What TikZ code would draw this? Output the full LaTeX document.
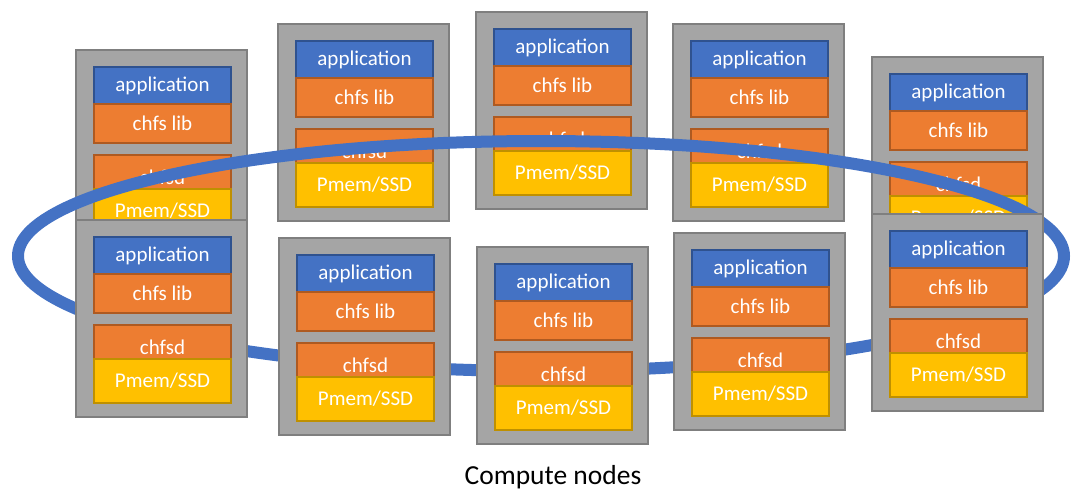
\documentclass[tikz,border=0pt]{standalone}
\usepackage{fontspec}
\setmainfont{Carlito}
\definecolor{appblue}{HTML}{4472C4}
\definecolor{appblueD}{HTML}{2F528F}
\definecolor{liborange}{HTML}{ED7D31}
\definecolor{liborangeD}{HTML}{AE5A21}
\definecolor{pmemyellow}{HTML}{FFC000}
\definecolor{pmemyellowD}{HTML}{BF9000}
\definecolor{nodegrey}{HTML}{A5A5A5}
\definecolor{nodegreyD}{HTML}{7F7F7F}
\definecolor{ringblue}{HTML}{4472C4}
\tikzset{
  layer/.style={anchor=north west, minimum width=137pt, inner sep=0pt, outer sep=0pt,
    text=white, font=\fontsize{21}{25}\selectfont, line width=2pt},
  outerbox/.style={anchor=north west, minimum width=171pt, minimum height=197pt,
    fill=nodegrey, draw=nodegreyD, line width=2.5pt, inner sep=0pt, outer sep=0pt},
  appbox/.style={layer, fill=appblue, draw=appblueD, minimum height=37pt},
  libbox/.style={layer, fill=liborange, draw=liborangeD, minimum height=39pt},
  dbox/.style={layer, fill=liborange, draw=liborangeD, minimum height=45pt},
  pmembox/.style={layer, fill=pmemyellow, draw=pmemyellowD, minimum height=44pt},
  ring/.style={draw=ringblue, line width=12pt},
  caption/.style={text=black, font=\fontsize{27.5}{32}\selectfont, inner sep=0pt},
}
\newcommand{\computenode}[3]{%
  \node[outerbox] (#1) at (#2,#3) {};
  \node[appbox] (#1-app) at ({#2+18},{#3+17}) {application};
  \node[libbox] (#1-lib) at ({#2+18},{#3+54}) {chfs lib};
  \node[dbox] (#1-d) at ({#2+18},{#3+105}) {chfsd};
  \node[pmembox] (#1-pmem) at ({#2+18},{#3+139}) {Pmem/SSD};
}
\begin{document}
\begin{tikzpicture}[x=1pt,y=-1pt]
  \useasboundingbox (0,0) rectangle (1071,491);
  % top row
  \computenode{t1}{76}{50}
  \computenode{t2}{278}{24}
  \computenode{t3}{476}{12}
  \computenode{t4}{673}{24}
  \computenode{t5}{872}{57}
  % ring
  \draw[ring] (541,256) ellipse [x radius=523, y radius=115];
  % bottom row
  \computenode{b1}{76}{220}
  \computenode{b2}{279}{238}
  \computenode{b3}{477}{247}
  \computenode{b4}{674}{233}
  \computenode{b5}{872}{214}
  \node[caption, anchor=base] (cap) at (553,484.5) {Compute nodes};
\end{tikzpicture}
\end{document}
